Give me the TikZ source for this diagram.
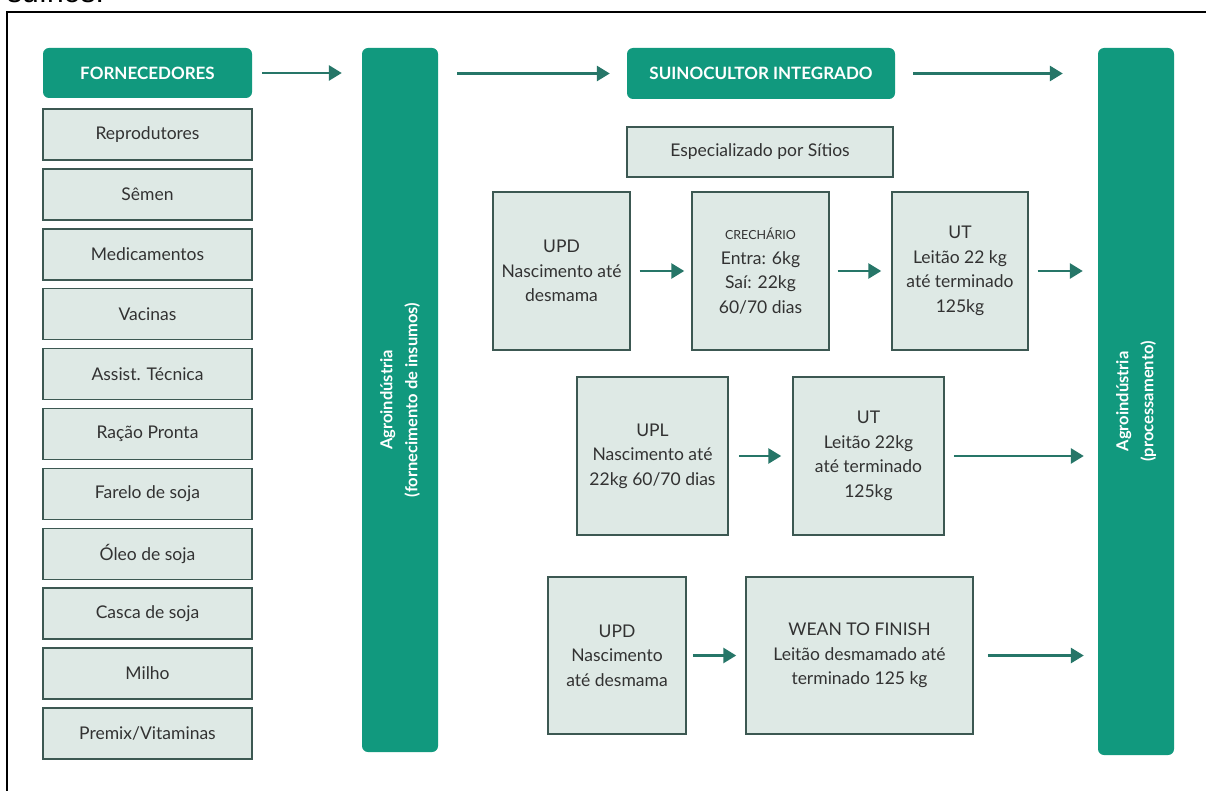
\documentclass[tikz,border=0pt]{standalone}
\usepackage{fontspec}
\setmainfont{Lato}
\newfontfamily\arialf{Liberation Sans}
\usetikzlibrary{arrows.meta}
\definecolor{tealfill}{RGB}{17,153,126}
\definecolor{boxfill}{RGB}{222,233,229}
\definecolor{boxline}{RGB}{60,88,82}
\definecolor{arrowcol}{RGB}{38,118,104}
\definecolor{txt}{RGB}{50,50,50}
\tikzset{
  header/.style={fill=tealfill, rounded corners=6pt, text=white, inner sep=0pt,
    font=\bfseries\fontsize{17pt}{20pt}\selectfont},
  bar/.style={fill=tealfill, rounded corners=6pt, inner sep=0pt, minimum width=76pt},
  bartext/.style={rotate=90, text=white, align=center, inner sep=0pt,
    font=\bfseries\fontsize{16.5pt}{25pt}\selectfont},
  supbox/.style={draw=boxline, line width=1.5pt, fill=boxfill, inner sep=0pt,
    minimum width=209pt, minimum height=51pt, text=txt,
    font=\fontsize{17.5pt}{20pt}\selectfont},
  stagebox/.style={draw=boxline, line width=1.5pt, fill=boxfill, inner sep=0pt,
    minimum height=158pt, text=txt, align=center,
    font=\fontsize{17.5pt}{24.5pt}\selectfont},
  arr/.style={draw=arrowcol, line width=2.8pt,
    -{Triangle[length=13pt,width=15pt]}, fill=arrowcol}
}
\begin{document}
\begin{tikzpicture}[x=1pt,y=-1pt]
\useasboundingbox (0,0) rectangle (1206,791);
\fill[white] (0,0) rectangle (1206,791);
% cut-off text from page above
\node[anchor=base west, inner sep=0pt, font=\arialf\fontsize{30pt}{34pt}\selectfont] (cut) at (7,3) {suínos.};
% frame
\draw[line width=2pt, black] (7,1000) -- (7,12) -- (1300,12);

% left column
\node[header, minimum width=209pt, minimum height=50pt] (forn) at (147.5,73) {FORNECEDORES};
\foreach \t [count=\i from 0] in {Reprodutores,Sêmen,Medicamentos,Vacinas,Assist. Técnica,Ração Pronta,Farelo de soja,Óleo de soja,Casca de soja,Milho,Premix/Vitaminas}
  \node[supbox] (s\i) at (147.5,{134.5+59.9*\i}) {\t};

% bars
\node[bar, minimum height=704pt] (agro1) at (400,400) {};
\node[bartext] (agro1t) at (agro1.center) {Agroindústria\\(fornecimento de insumos)};
\node[bar, minimum height=707pt] (agro2) at (1136,401.5) {};
\node[bartext] (agro2t) at (agro2.center) {Agroindústria\\(processamento)};

% top right header
\node[header, minimum width=268pt, minimum height=51pt] (suin) at (761,73.5) {SUINOCULTOR INTEGRADO};
\node[supbox, minimum width=266pt, minimum height=50pt] (espec) at (760,152) {Especializado por Sítios};

% row 1
\node[stagebox, minimum width=137pt] (upd1) at (561.5,271) {UPD\\Nascimento até\\desmama};
\node[stagebox, minimum width=137pt] (crech) at (760.5,271) {{\fontsize{12.5pt}{15pt}\selectfont CRECHÁRIO}\\Entra: 6kg\\Saí: 22kg\\60/70 dias};
\node[stagebox, minimum width=136pt] (ut1) at (960,271) {UT\\Leitão 22 kg\\até terminado\\125kg};

% row 2
\node[stagebox, minimum width=151pt] (upl) at (652.5,456) {UPL\\Nascimento até\\22kg 60/70 dias};
\node[stagebox, minimum width=151pt] (ut2) at (868.5,456) {UT\\Leitão 22kg\\até terminado\\125kg};

% row 3
\node[stagebox, minimum width=138pt, minimum height=157pt] (upd3) at (617,655.5) {UPD\\Nascimento\\até desmama};
\node[stagebox, minimum width=227pt, minimum height=157pt] (wtf) at (859.5,655.5) {WEAN TO FINISH\\Leitão desmamado até\\terminado 125 kg};

% top arrows
\draw[arr, shorten <=10pt, shorten >=20pt] (forn.east) -- (forn.east -| agro1.west);
\draw[arr, shorten <=19pt, shorten >=17pt] (agro1.east |- suin.west) -- (suin.west);
\draw[arr, shorten <=18pt, shorten >=35pt] (suin.east) -- (suin.east -| agro2.west);

% row 1 arrows
\draw[arr, shorten <=9pt, shorten >=7pt] (upd1.east) -- (crech.west);
\draw[arr, shorten <=8pt, shorten >=10pt] (crech.east) -- (ut1.west);
\draw[arr, shorten <=9pt, shorten >=15pt] (ut1.east) -- (ut1.east -| agro2.west);

% row 2 arrows
\draw[arr, shorten <=10pt, shorten >=11pt] (upl.east) -- (ut2.west);
\draw[arr, shorten <=9pt, shorten >=14pt] (ut2.east) -- (ut2.east -| agro2.west);

% row 3 arrows
\draw[arr, shorten <=6pt, shorten >=9pt] (upd3.east) -- (wtf.west);
\draw[arr, shorten <=14pt, shorten >=14pt] (wtf.east) -- (wtf.east -| agro2.west);
\end{tikzpicture}
\end{document}
